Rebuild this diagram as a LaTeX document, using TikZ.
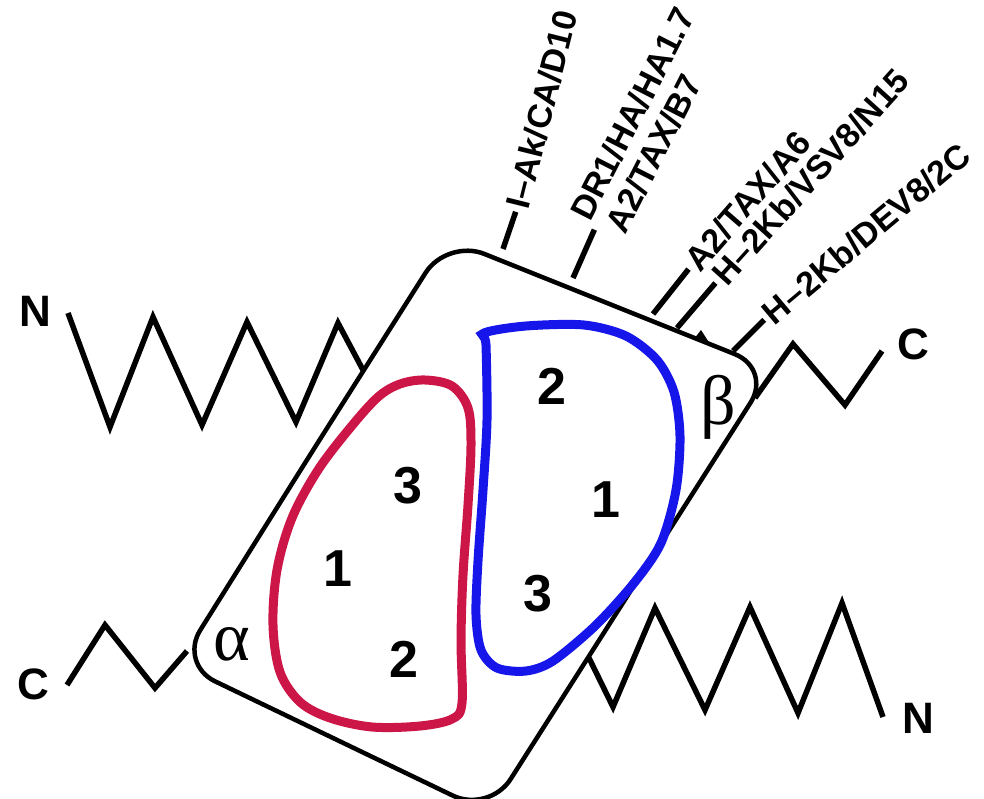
\documentclass[tikz,border=0pt]{standalone}
\usepackage{fontspec}
\setmainfont{Liberation Sans}
\newfontfamily\greekfont{Liberation Serif}
\definecolor{alphared}{RGB}{204,22,72}
\definecolor{betablue}{RGB}{22,22,235}
\begin{document}
\begin{tikzpicture}[x=1pt, y=-1pt,
    box/.style={line width=4.5pt, rounded corners=40pt},
    chain/.style={line width=5.5pt},
    tick/.style={line width=5.5pt, shorten >=4pt},
    term/.style={font=\fontsize{44}{48}\selectfont\bfseries},
    site/.style={font=\fontsize{52}{58}\selectfont\bfseries},
    greek/.style={font=\fontsize{70}{76}\selectfont\greekfont},
    epi/.style={font=\fontsize{34}{37}\selectfont\bfseries, inner sep=0pt, anchor=west, align=left}
  ]
    \useasboundingbox (0,0) rectangle (984,799);

    % Chain ends
    \node[term] (nTop) at (35,311) {N};
    \node[term] (cTop) at (913,344) {C};
    \node[term] (cBot) at (33,684) {C};
    \node[term] (nBot) at (918,718) {N};

    % Zigzag chains
    \draw[chain] (68,313) -- (110,427) -- (153,317) -- (202,425) -- (247,322)
      -- (296,422) -- (338,323) -- (363,370);
    \draw[chain] (755,398) -- (793,344) -- (845,405) -- (882,351);
    \draw[chain] (67,685) -- (105,625) -- (155,688) -- (187,651);
    \draw[chain] (589,658) -- (613,707) -- (655,608) -- (705,710) -- (750,607)
      -- (798,713) -- (842,603) -- (883,717);

    % Domain box
    \draw[box] (310,455) -- (447,239) -- (772,369) -- (489,813) -- (179,664) -- cycle;
    \fill (694,339) -- (701,330) -- (710,344) -- cycle;

    % Alpha loop
    \draw[line width=9pt, color=alphared] plot[smooth cycle, tension=0.55] coordinates {
      (452,386) (425,380) (400,384) (378,397) (350,428) (318,470) (292,518)
      (277,570) (273,625) (280,672) (300,702) (330,718) (372,727) (420,726)
      (452,719) (462,703) (461,640) (463,575) (468,505) (471,445) (468,408)};

    % Beta loop
    \draw[line width=9pt, color=betablue] plot[smooth cycle, tension=0.5] coordinates {
      (484,333) (526,326) (584,325) (626,336) (657,360) (674,392) (680,436)
      (676,490) (661,543) (634,583) (595,626) (553,661) (526,671) (497,668)
      (481,650) (476,615) (478,561) (483,490) (487,420) (486,345)};

    % Loop numbers
    \node[site] (a3) at (408,486) {3};
    \node[site] (a1) at (338,569) {1};
    \node[site] (a2) at (404,659) {2};
    \node[site] (b2) at (552,386) {2};
    \node[site] (b1) at (606,500) {1};
    \node[site] (b3) at (538,594) {3};
    \node[greek] (alpha) at (232,644) {α};
    \node[greek] (beta) at (718,407) {β};

    % Epitope labels
    \node[epi, rotate=76] (ak) at (517,208) {I--Ak/CA/D10};
    \node[epi, rotate=63] (dr) at (596,226) {DR1/HA/HA1.7\\\hspace*{5pt}A2/TAX/B7};
    \node[epi, rotate=49] (a6) at (691,266) {A2/TAX/A6};
    \node[epi, rotate=48] (vsv) at (718,280) {H--2Kb/VSV8/N15};
    \node[epi, rotate=40] (dev) at (767,317) {H--2Kb/DEV8/2C};

    \coordinate (fAk) at (503,249);
    \coordinate (fDr) at (573,278);
    \coordinate (fA6) at (653,314);
    \coordinate (fVsv) at (677,328);
    \coordinate (fDev) at (733,351);
    \draw[tick] (fAk) -- (ak.west);
    \draw[tick] (fDr) -- (dr.west);
    \draw[tick] (fA6) -- (a6.west);
    \draw[tick] (fVsv) -- (vsv.west);
    \draw[tick] (fDev) -- (dev.west);
\end{tikzpicture}
\end{document}
